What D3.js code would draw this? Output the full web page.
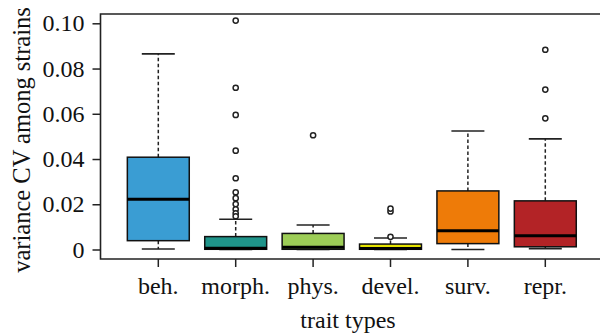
<!DOCTYPE html>
<html><head><meta charset="utf-8">
<script src="https://cdn.jsdelivr.net/npm/d3@7"></script>
<style>body{margin:0;background:#fff}svg{display:block}</style>
</head><body><svg id="c" width="600" height="333"></svg>
<script>
const categories = ["beh.","morph.","phys.","devel.","surv.","repr."];
const colors = ["#3a9dd3","#1f948a","#9dcd57","#e6e400","#ee7b08","#b32326"];
const whiskerLow = [0.0002,0.0000,0.0000,0.0000,0.0000,0.0004];
const q1 =        [0.0039,0.0001,0.0001,0.0001,0.0026,0.0012];
const medians =   [0.0222,0.0005,0.0010,0.0004,0.0083,0.0061];
const q3 =        [0.0408,0.0057,0.0071,0.0024,0.0259,0.0215];
const whiskerHigh=[0.0865,0.0134,0.0108,0.0051,0.0524,0.0489];
const outliers = [
  [],
  [0.1012,0.0715,0.0595,0.0437,0.0315,0.0253,0.0227,0.0201,0.0178,0.0160,0.0147],
  [0.0505],
  [0.0056,0.0168,0.0181],
  [],
  [0.0883,0.0707,0.0580]
];
const yTicks = [0,0.02,0.04,0.06,0.08,0.10];
const yTickLabels = ["0","0.02","0.04","0.06","0.08","0.10"];

const svg = d3.select("#c");
const font = "'Liberation Serif','Times New Roman',serif";
const x = d3.scaleBand().domain(categories).range([119.6,584]).paddingInner(0.2).paddingOuter(0.1);
const y = d3.scaleLinear().domain([0,0.10]).range([249.5,23.3]);

// frame
svg.append("path").attr("d","M603,14H100.5V259H603").attr("fill","none").attr("stroke","#222").attr("stroke-width",1.6);

const g = svg.append("g");
categories.forEach((c,i)=>{
  const cx = x(c) + x.bandwidth()/2, bw = x.bandwidth(), cap = 33;
  g.append("line").attr("x1",cx).attr("x2",cx).attr("y1",y(q3[i])).attr("y2",y(whiskerHigh[i]))
    .attr("stroke","#222").attr("stroke-width",1.5).attr("stroke-dasharray","3.5,2.5");
  g.append("line").attr("x1",cx).attr("x2",cx).attr("y1",y(q1[i])).attr("y2",y(whiskerLow[i]))
    .attr("stroke","#222").attr("stroke-width",1.5).attr("stroke-dasharray","3.5,2.5");
  [whiskerHigh[i], whiskerLow[i]].forEach(v=>{
    g.append("line").attr("x1",cx-cap/2).attr("x2",cx+cap/2).attr("y1",y(v)).attr("y2",y(v))
      .attr("stroke","#222").attr("stroke-width",1.6);
  });
  g.append("rect").attr("x",x(c)).attr("width",bw).attr("y",y(q3[i])).attr("height",y(q1[i])-y(q3[i]))
    .attr("fill",colors[i]).attr("stroke","#111").attr("stroke-width",1.5);
  g.append("line").attr("x1",x(c)).attr("x2",x(c)+bw).attr("y1",y(medians[i])).attr("y2",y(medians[i]))
    .attr("stroke","#000").attr("stroke-width",3);
  outliers[i].forEach(v=>{
    g.append("circle").attr("cx",cx).attr("cy",y(v)).attr("r",2.6).attr("fill","#fff")
      .attr("stroke","#222").attr("stroke-width",1.5);
  });
});

const ya = svg.append("g").attr("transform","translate(100.5,0)")
  .call(d3.axisLeft(y).tickValues(yTicks).tickSize(8).tickPadding(8).tickFormat((d,i)=>yTickLabels[i]));
ya.select(".domain").remove();
ya.selectAll(".tick line").attr("stroke","#222").attr("stroke-width",1.5);
ya.selectAll("text").attr("font-family",font).attr("font-size",24).attr("fill","#111");

const xa = svg.append("g").attr("transform","translate(0,259)")
  .call(d3.axisBottom(x).tickSize(8).tickPadding(10));
xa.select(".domain").remove();
xa.selectAll(".tick line").attr("stroke","#222").attr("stroke-width",1.5);
xa.selectAll("text").attr("font-family",font).attr("font-size",24).attr("fill","#111");

svg.append("text").attr("x",348).attr("y",328).attr("text-anchor","middle")
  .attr("font-family",font).attr("font-size",24).attr("fill","#111").text("trait types");
svg.append("text").attr("transform","translate(30,140) rotate(-90)").attr("text-anchor","middle")
  .attr("font-family",font).attr("font-size",24.5).attr("fill","#111").text("variance CV among strains");
</script></body></html>
